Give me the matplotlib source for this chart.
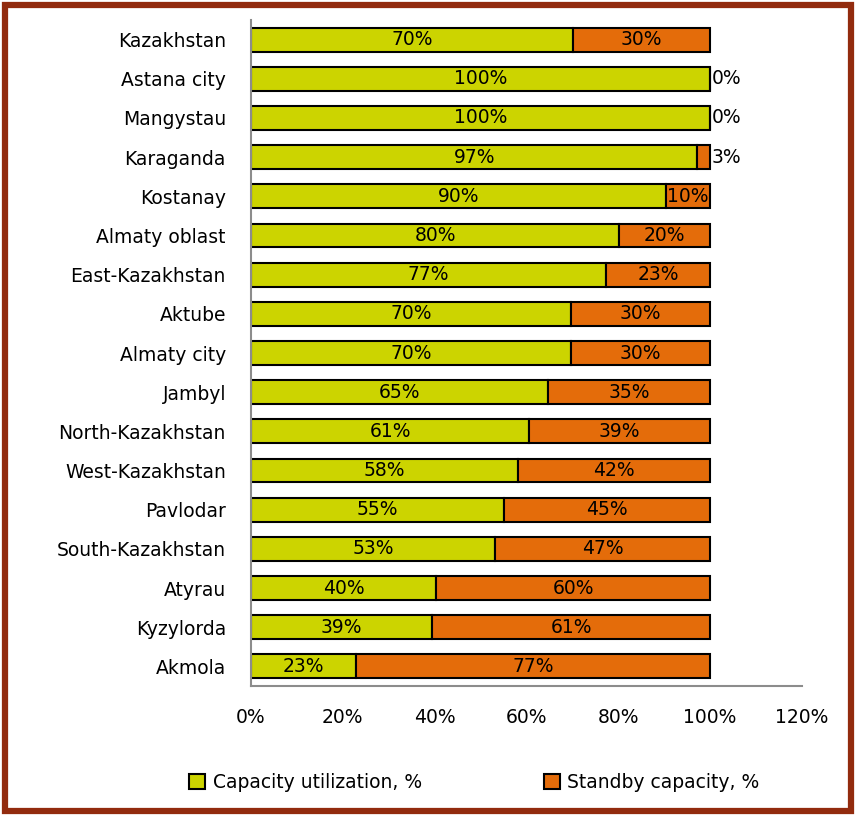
import matplotlib.pyplot as plt
from matplotlib.patches import Rectangle

# regions, top to bottom as drawn
regions = ['Kazakhstan', 'Astana city', 'Mangystau', 'Karaganda', 'Kostanay',
           'Almaty oblast', 'East-Kazakhstan', 'Aktube', 'Almaty city', 'Jambyl',
           'North-Kazakhstan', 'West-Kazakhstan', 'Pavlodar', 'South-Kazakhstan',
           'Atyrau', 'Kyzylorda', 'Akmola']
utilization = [70.2, 100, 100, 97.2, 90.4, 80.2, 77.4, 69.7, 69.6, 64.7,
               60.6, 58.2, 55.1, 53.2, 40.3, 39.4, 22.9]
standby = [100 - u for u in utilization]
xticks = [0, 20, 40, 60, 80, 100, 120]

green = '#CCD400'
orange = '#E46C0A'
font = 'DejaVu Sans'
fs = 13.5

fig = plt.figure(figsize=(8.56, 8.16), dpi=100)
ax = fig.add_axes([0.2932, 0.1593, 0.6437, 0.8162])

y = list(range(len(regions)))
b1 = ax.barh(y, utilization, height=0.61, color=green, edgecolor='black',
             linewidth=1.5, label='Capacity utilization, %')
b2 = ax.barh(y, standby, left=utilization, height=0.61, color=orange,
             edgecolor='black', linewidth=1.5, label='Standby capacity, %')

for i in y:
    u = utilization[i]
    s = standby[i]
    ax.text(u / 2, i, '%d%%' % round(u), ha='center', va='center',
            fontsize=fs, family=font)
    if s < 5:
        ax.text(100.4, i, '%d%%' % round(s), ha='left', va='center',
                fontsize=fs, family=font)
    else:
        ax.text(u + s / 2, i, '%d%%' % round(s), ha='center', va='center',
                fontsize=fs, family=font)

ax.set_xlim(0, 120)
ax.set_ylim(len(regions) - 0.5, -0.5)
ax.set_xticks(xticks)
ax.set_xticklabels(['%d%%' % t for t in xticks], fontsize=fs, family=font)
ax.set_yticks(y)
ax.set_yticklabels(regions, fontsize=fs, family=font)
ax.tick_params(axis='x', length=0, pad=16)
ax.tick_params(axis='y', length=0, pad=18)

for side in ['top', 'right']:
    ax.spines[side].set_visible(False)
for side in ['left', 'bottom']:
    ax.spines[side].set_color('#8C8C8C')
    ax.spines[side].set_linewidth(1.5)

leg = fig.legend(handles=[b1, b2], loc='center', bbox_to_anchor=(0.554, 0.041),
                 ncol=2, frameon=False, columnspacing=6.5,
                 handlelength=0.85, handleheight=0.85, handletextpad=0.4,
                 prop={'family': font, 'size': fs})

# dark red frame round the whole figure
fig.patches.append(Rectangle((0.006, 0.006), 0.988, 0.988, transform=fig.transFigure,
                             fill=False, edgecolor='#922B0E', linewidth=4.5))

plt.savefig('out.png', dpi=100)
